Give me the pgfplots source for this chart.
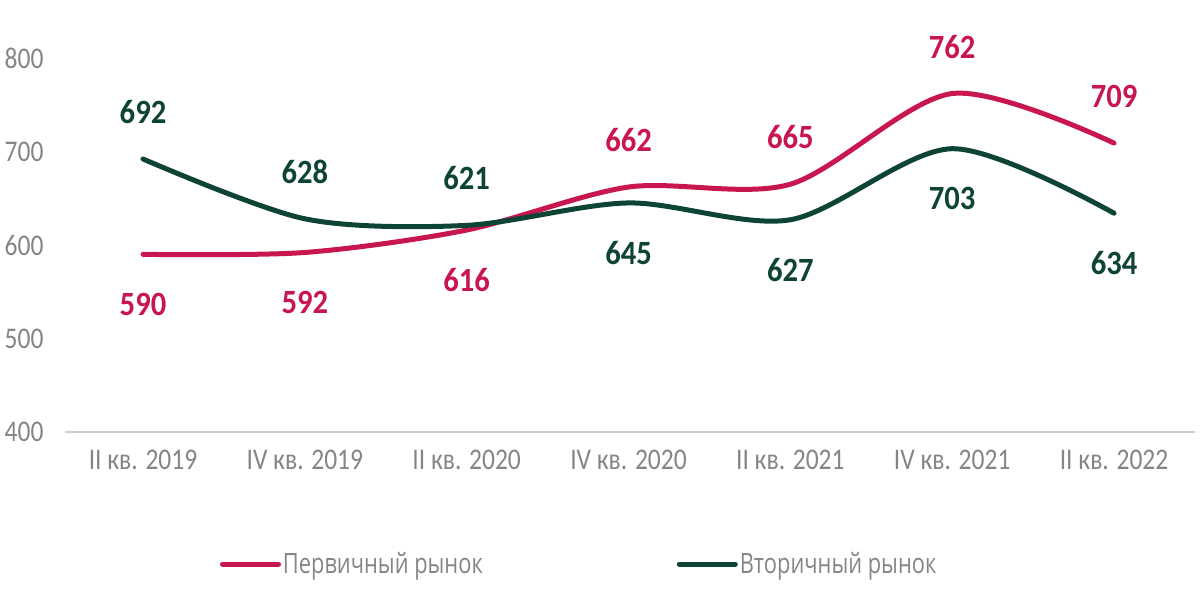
\documentclass[border=0pt]{standalone}
\usepackage{pgfplots}
\pgfplotsset{compat=1.18}
\usepackage{fontspec}
\setmainfont{Carlito}[FakeStretch=0.85]
\newfontfamily\labfont{Carlito}[FakeStretch=0.9]
\newfontfamily\legfont{Open Sans}[FakeStretch=0.78]
\definecolor{cred}{HTML}{C8164E}
\definecolor{cgreen}{HTML}{0E4436}
\definecolor{tgray}{HTML}{858585}
\definecolor{lgray}{HTML}{CCCCCC}
\begin{document}
\begin{tikzpicture}
\path[use as bounding box] (0,0) rectangle (1200bp,600bp);
\begin{axis}[
  at={(65bp,168bp)}, anchor=south west,
  scale only axis, width=1130bp, height=374bp,
  xmin=-0.482, xmax=6.5, ymin=400, ymax=800,
  clip=false,
  axis x line*=bottom, axis y line*=left,
  x axis line style={draw=lgray, line width=2bp, -},
  y axis line style={draw=none},
  major tick length=0pt,
  xtick={0,...,6},
  xticklabels={II кв. 2019, IV кв. 2019, II кв. 2020, IV кв. 2020, II кв. 2021, IV кв. 2021, II кв. 2022},
  ytick={400,500,600,700,800},
  /pgf/number format/assume math mode=true,
  xticklabel style={font=\fontsize{30bp}{34bp}\selectfont, text=tgray, anchor=center, yshift=-28bp},
  yticklabel style={font=\fontsize{30bp}{34bp}\selectfont, text=tgray, anchor=east, xshift=-18bp},
  legend style={at={(rel axis cs:0.137,-0.353)}, anchor=west, draw=none, fill=none, inner sep=0pt,
    font=\legfont\fontsize{28bp}{32bp}\selectfont, text=tgray,
    /tikz/every odd column/.append style={column sep=0bp},
    /tikz/every even column/.append style={column sep=192bp}},
  legend columns=2,
  legend image code/.code={\draw[#1, line width=5bp, line cap=round] (2bp,0bp) -- (58bp,0bp);},
  lab/.style={draw=none, mark=none, forget plot, point meta=y,
    nodes near coords={\labfont\bfseries\fontsize{34bp}{38bp}\selectfont\pgfmathprintnumber[assume math mode=true]{\pgfplotspointmeta}},
    every node near coord/.append style={anchor=center}},
]
\addplot[cred, line width=5bp, smooth, tension=0.5, line cap=round] coordinates {(0,590) (1,592) (2,616) (3,662) (4,665) (5,762) (6,709)};
\addlegendentry{Первичный рынок}
\addplot[cgreen, line width=5bp, smooth, tension=0.5, line cap=round] coordinates {(0,692) (1,628) (2,621) (3,645) (4,627) (5,703) (6,634)};
\addlegendentry{Вторичный рынок}
\addplot[lab, every node near coord/.append style={text=cred, yshift=-50bp}] coordinates {(0,590) (1,592) (2,616)};
\addplot[lab, every node near coord/.append style={text=cred, yshift=47bp}] coordinates {(3,662) (4,665) (5,762) (6,709)};
\addplot[lab, every node near coord/.append style={text=cgreen, yshift=47bp}] coordinates {(0,692) (1,628) (2,621)};
\addplot[lab, every node near coord/.append style={text=cgreen, yshift=-50bp}] coordinates {(3,645) (4,627) (5,703) (6,634)};
\end{axis}
\end{tikzpicture}
\end{document}
